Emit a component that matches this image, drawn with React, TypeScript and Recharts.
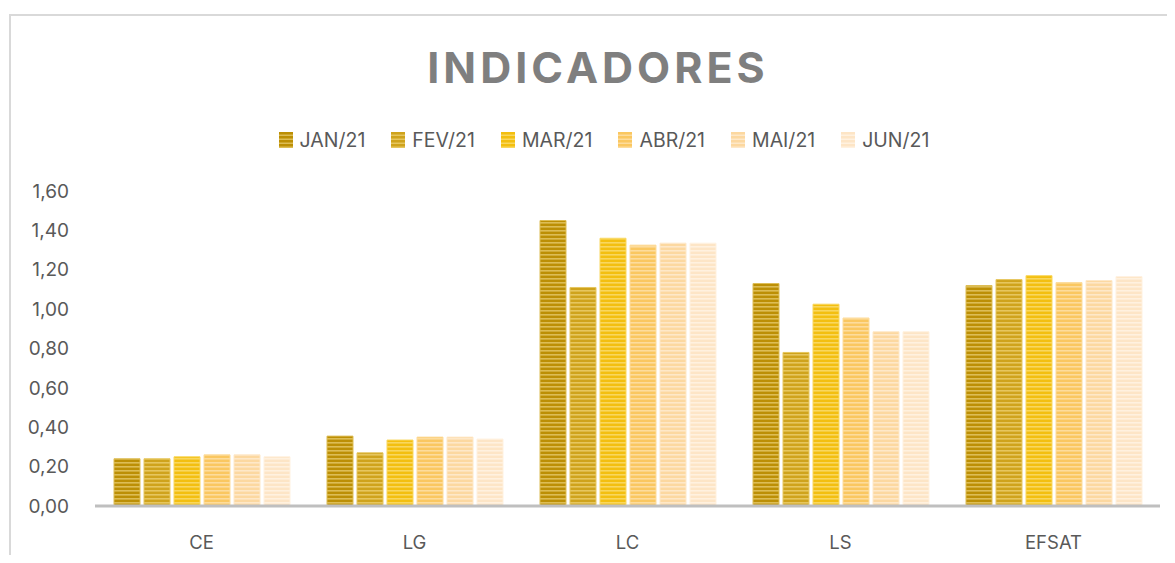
import React from 'react';
import { BarChart, Bar, XAxis, YAxis, Legend } from 'recharts';

const categories = ['CE', 'LG', 'LC', 'LS', 'EFSAT'];
const seriesNames = ['JAN/21', 'FEV/21', 'MAR/21', 'ABR/21', 'MAI/21', 'JUN/21'];
const jan = [0.24, 0.355, 1.45, 1.13, 1.12];
const fev = [0.24, 0.27, 1.11, 0.78, 1.15];
const mar = [0.25, 0.335, 1.36, 1.025, 1.17];
const abr = [0.26, 0.35, 1.325, 0.955, 1.135];
const mai = [0.26, 0.35, 1.335, 0.885, 1.145];
const jun = [0.25, 0.34, 1.335, 0.885, 1.165];
const yTicks = [0, 0.2, 0.4, 0.6, 0.8, 1.0, 1.2, 1.4, 1.6];

const seriesValues = [jan, fev, mar, abr, mai, jun];
const colors = ['#BC8F05', '#CFA31C', '#F3BF10', '#FAC760', '#FCD8A0', '#FDE5C6'];
const stripeColors = ['#DDBD55', '#E6C65E', '#F9D75E', '#FDDC9C', '#FEE8C8', '#FFF1DF'];

const data = categories.map((c, i) => {
  const row: Record<string, any> = { name: c };
  seriesNames.forEach((s, j) => {
    row[s] = seriesValues[j][i];
  });
  return row;
});

const fmt = (v: number) => v.toFixed(2).replace('.', ',');

const FONT = 'Inter, "Open Sans", sans-serif';

const LegendContent = () => (
  <div style={{ display: 'flex', justifyContent: 'center', alignItems: 'center', fontFamily: FONT, fontSize: 19.5, color: '#595959' }}>
    {seriesNames.map((s, i) => (
      <div key={s} style={{ display: 'flex', alignItems: 'center', marginRight: i < seriesNames.length - 1 ? 26 : 0 }}>
        <svg width={14} height={16} style={{ marginRight: 7 }}>
          <rect x={0} y={0} width={14} height={16} fill={colors[i]} />
          {[0, 1, 2, 3].map((k) => (
            <rect key={k} x={0} y={2.5 + k * 4} width={14} height={1.5} fill={stripeColors[i]} />
          ))}
        </svg>
        <span>{s}</span>
      </div>
    ))}
  </div>
);

export default function App() {
  return (
    <div style={{ position: 'relative', width: 1167, height: 547, overflow: 'hidden', background: '#fff' }}>
      <div style={{ position: 'absolute', left: 1, top: 6, width: 1220, height: 620, border: '2px solid #D9D9D9', boxSizing: 'border-box' }} />
      <div style={{ position: 'absolute', left: 0, top: 38, width: 1180, textAlign: 'center', fontFamily: FONT, fontWeight: 700, fontSize: 43, lineHeight: 1, letterSpacing: 4, color: '#7F7F7F' }}>
        INDICADORES
      </div>
      <div style={{ position: 'absolute', left: 0, top: 0 }}>
        <BarChart width={1167} height={547} data={data} margin={{ top: 183, right: 15, bottom: 9, left: 0 }} barSize={26} barGap={4}>
          <defs>
            {colors.map((c, i) => (
              <pattern key={i} id={`stripe${i}`} patternUnits="userSpaceOnUse" width={4} height={4}>
                <rect x={0} y={0} width={4} height={4} fill={c} />
                <rect x={0} y={2} width={4} height={1.6} fill={stripeColors[i]} />
              </pattern>
            ))}
          </defs>
          <XAxis
            dataKey="name"
            axisLine={{ stroke: '#BFBFBF', strokeWidth: 3 }}
            tickLine={false}
            tickSize={6}
            tickMargin={24}
            height={40}
            tick={{ fill: '#595959', fontSize: 18.5, fontFamily: FONT }}
          />
          <YAxis
            domain={[0, 1.6]}
            ticks={yTicks}
            width={87}
            axisLine={false}
            tickLine={false}
            tickSize={6}
            tickMargin={20}
            tickFormatter={fmt}
            tick={{ fill: '#595959', fontSize: 19, fontFamily: FONT }}
            interval={0}
          />
          <Legend content={<LegendContent />} verticalAlign="middle" align="center" wrapperStyle={{ position: 'absolute', top: 120, left: 0, width: 1192, height: 24 }} />
          {seriesNames.map((s, i) => (
            <Bar key={s} dataKey={s} fill={`url(#stripe${i})`} stroke={stripeColors[i]} strokeWidth={1} isAnimationActive={false} />
          ))}
        </BarChart>
      </div>
    </div>
  );
}
